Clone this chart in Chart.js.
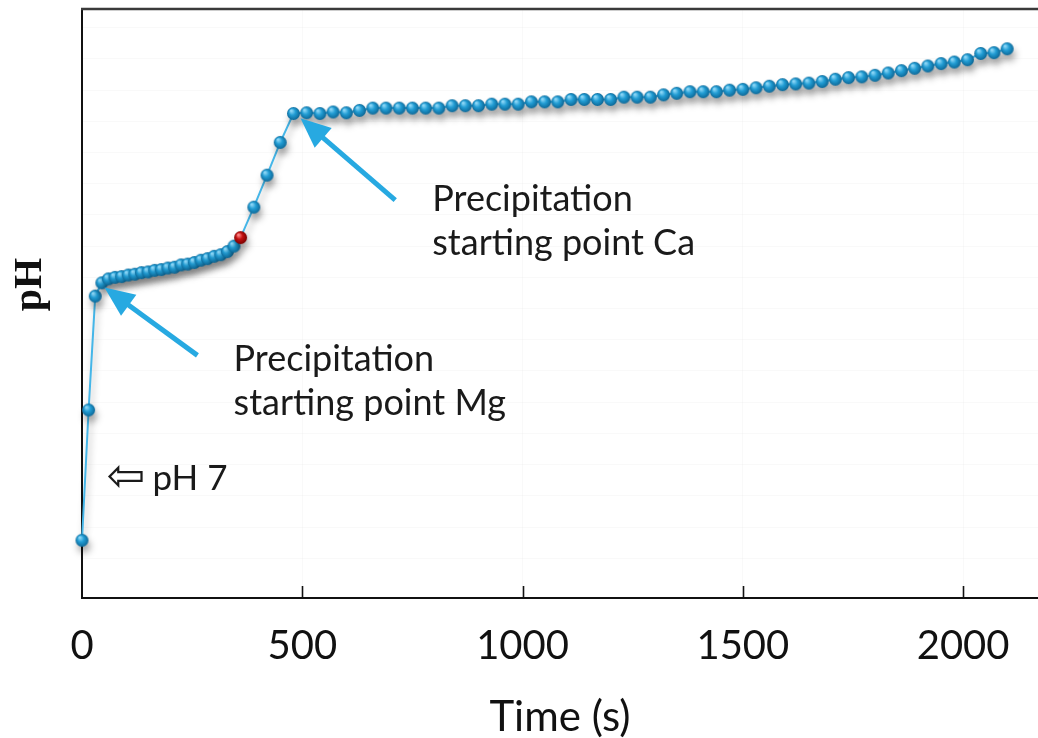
<!DOCTYPE html>
<html><head><meta charset="utf-8">
<script src="https://cdn.jsdelivr.net/npm/chart.js@4.4.0/dist/chart.umd.min.js"></script>
<style>html,body{margin:0;padding:0;background:#fff;} canvas{display:block}</style>
</head><body>
<canvas id="c" width="1038" height="738"></canvas>
<script>
// ---- data ----
const timeS = [0,15,30,45,60,75,90,105,120,135,150,165,180,195,210,225,240,255,270,285,300,315,330,345,360,
  390,420,450,480,510,540,570,600,630,660,690,720,750,780,810,840,870,900,930,960,990,
  1020,1050,1080,1110,1140,1170,1200,1230,1260,1290,1320,1350,1380,1410,1440,1470,1500,
  1530,1560,1590,1620,1650,1680,1710,1740,1770,1800,1830,1860,1890,1920,1950,1980,2010,2040,2070,2100];
const phValues = [6.23,7.90,9.36,9.53,9.58,9.60,9.61,9.63,9.64,9.66,9.67,9.69,9.70,9.72,9.73,9.76,9.77,9.79,9.82,9.84,9.87,9.89,9.93,10.00,10.11,
  10.50,10.91,11.33,11.70,11.71,11.70,11.72,11.71,11.74,11.77,11.77,11.77,11.77,11.77,11.77,11.80,11.80,11.80,11.82,11.82,11.82,
  11.85,11.85,11.85,11.88,11.88,11.88,11.88,11.91,11.91,11.91,11.94,11.96,11.98,11.98,11.98,12.00,12.01,
  12.03,12.05,12.07,12.08,12.09,12.11,12.14,12.16,12.17,12.19,12.22,12.25,12.28,12.31,12.34,12.36,12.39,12.47,12.48,12.53];
const highlightTime = 360;
const xTickValues = [0,500,1000,1500,2000];
const xRange = [0, 2170];
const yRange = [5.49, 13.04];
const xAxisTitle = 'Time (s)';
const yAxisTitle = 'pH';
const mgLabel = ['Precipitation', 'starting point Mg'];
const caLabel = ['Precipitation', 'starting point Ca'];
const ph7Label = 'pH 7';
// annotation anchors in data units [time, pH]
const mgText = [344, 8.40], mgArrowTail = [262, 8.60], mgArrowTip = [51, 9.47];
const caText = [795, 10.45], caArrowTail = [711, 10.59], caArrowTip = [496, 11.64];
const ph7Anchor = [60, 6.87];

// ---- styles ----
const FONT = 'Lato, "Noto Sans", sans-serif';
function makeSphere(r, light, mid, dark) {
  const c = document.createElement('canvas');
  const s = Math.ceil(r * 2 + 2); c.width = c.height = s;
  const g = c.getContext('2d');
  const grd = g.createRadialGradient(s/2 - r*0.35, s/2 - r*0.45, r*0.1, s/2, s/2, r);
  grd.addColorStop(0, light); grd.addColorStop(0.45, mid); grd.addColorStop(1, dark);
  g.fillStyle = grd; g.beginPath(); g.arc(s/2, s/2, r, 0, Math.PI*2); g.fill();
  return c;
}
const blueBall = makeSphere(6.5, '#8fd8f7', '#229dd4', '#0d6898');
const redBall = makeSphere(6.5, '#ff8a8a', '#c41010', '#780000');

const points = timeS.map((t, i) => ({x: t, y: phValues[i]}));

const decor = {
  id: 'decor',
  beforeDatasetsDraw(chart) {
    const ctx = chart.ctx; ctx.save();
    ctx.shadowColor = 'rgba(0,0,0,0.33)'; ctx.shadowBlur = 7;
    ctx.shadowOffsetX = 2; ctx.shadowOffsetY = 6;
  },
  afterDatasetsDraw(chart) {
    const ctx = chart.ctx; ctx.restore();
    const xs = chart.scales.x, ys = chart.scales.y, ca = chart.chartArea;
    const P = (d) => [xs.getPixelForValue(d[0]), ys.getPixelForValue(d[1])];
    ctx.save();
    // top frame
    ctx.strokeStyle = '#3a3a3a'; ctx.lineWidth = 2.5;
    ctx.beginPath(); ctx.moveTo(ca.left - 1, ca.top); ctx.lineTo(ca.right, ca.top); ctx.stroke();
    // inside tick marks
    ctx.strokeStyle = '#111'; ctx.lineWidth = 1.6;
    xTickValues.forEach(v => { if (v <= xRange[0]) return; const px = Math.round(xs.getPixelForValue(v)) + 0.5;
      ctx.beginPath(); ctx.moveTo(px, ca.bottom); ctx.lineTo(px, ca.bottom - 12); ctx.stroke(); });
    // arrows
    function arrow(tail, tip) {
      const [x1, y1] = P(tail), [x2, y2] = P(tip);
      const a = Math.atan2(y2 - y1, x2 - x1), L = 30, W = 13;
      const bx = x2 - L * Math.cos(a), by = y2 - L * Math.sin(a);
      ctx.strokeStyle = '#27a9e1'; ctx.fillStyle = '#27a9e1'; ctx.lineWidth = 5;
      ctx.beginPath(); ctx.moveTo(x1, y1); ctx.lineTo(bx + 2*Math.cos(a), by + 2*Math.sin(a)); ctx.stroke();
      ctx.beginPath(); ctx.moveTo(x2, y2);
      ctx.lineTo(bx + W * Math.sin(a), by - W * Math.cos(a));
      ctx.lineTo(bx - W * Math.sin(a), by + W * Math.cos(a));
      ctx.closePath(); ctx.fill();
    }
    arrow(mgArrowTail, mgArrowTip);
    arrow(caArrowTail, caArrowTip);
    // texts
    ctx.fillStyle = '#1a1a1a'; ctx.textBaseline = 'alphabetic'; ctx.textAlign = 'left';
    ctx.font = '36px ' + FONT;
    function lines(anchor, arr) { const [x, y] = P(anchor); arr.forEach((s, i) => ctx.fillText(s, x, y + i * 44)); }
    lines(mgText, mgLabel);
    lines(caText, caLabel);
    const [hx, hy] = P(ph7Anchor);
    ctx.font = '46px "DejaVu Sans"';
    ctx.fillText('\u21E6', hx - 2, hy + 1);
    ctx.font = '35px ' + FONT;
    ctx.fillText(ph7Label, hx + 44, hy);
    // y title
    ctx.save();
    ctx.translate(31, ca.top + (ca.bottom - ca.top) * 0.468);
    ctx.rotate(-Math.PI / 2);
    ctx.font = 'bold 40px "Liberation Serif", "Times New Roman", serif';
    ctx.textAlign = 'center'; ctx.textBaseline = 'middle'; ctx.fillStyle = '#111';
    ctx.fillText(yAxisTitle, 0, 0);
    ctx.restore();
    ctx.restore();
  }
};

new Chart(document.getElementById('c'), {
  type: 'line',
  data: { datasets: [{
    data: points,
    borderColor: '#45b6e8', borderWidth: 2, tension: 0,
    pointStyle: (c) => (c.raw && c.raw.x === highlightTime) ? redBall : blueBall,
    pointRadius: 6.5, pointHoverRadius: 6.5,
    clip: false
  }]},
  options: {
    responsive: false, animation: false, devicePixelRatio: 1,
    layout: { autoPadding: false, padding: { top: 9, left: 0, right: 0, bottom: 0 } },
    plugins: { legend: { display: false }, tooltip: { enabled: false } },
    events: [],
    scales: {
      x: {
        type: 'linear', min: xRange[0], max: xRange[1],
        afterBuildTicks: (s) => { s.ticks = xTickValues.map(v => ({ value: v })); },
        afterFit: (s) => { s.height = 140; s.paddingLeft = 0; s.paddingRight = 0; },
        grid: { color: 'rgba(0,0,0,0.025)', drawTicks: false },
        border: { color: '#111', width: 2 },
        ticks: { color: '#111', font: { family: FONT, size: 40 }, padding: 24, maxRotation: 0, autoSkip: false,
                 callback: (v) => String(v) },
        title: { display: true, text: xAxisTitle, color: '#111', font: { family: FONT, size: 42, lineHeight: 1 }, padding: { top: 0, bottom: 0 } }
      },
      y: {
        type: 'linear', min: yRange[0], max: yRange[1],
        afterFit: (s) => { s.width = 82; },
        grid: { color: 'rgba(0,0,0,0.022)', drawTicks: false },
        border: { color: '#111', width: 2 },
        ticks: { display: false, stepSize: 0.4 }
      }
    }
  },
  plugins: [decor]
});
</script>
</body></html>
